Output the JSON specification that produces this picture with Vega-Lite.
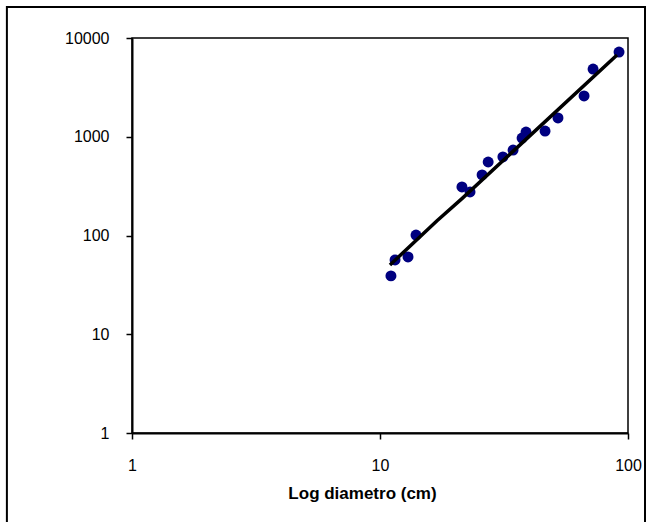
{
  "$schema": "https://vega.github.io/schema/vega-lite/v6.json",
  "autosize": "none",
  "width": 496,
  "height": 395,
  "padding": {"left": 132, "top": 38, "right": 25, "bottom": 89},
  "background": "white",
  "config": {
    "font": "Liberation Sans",
    "view": {"stroke": "black", "strokeWidth": 1.5},
    "axis": {"grid": false, "domainColor": "black", "domainWidth": 2, "tickColor": "black", "tickWidth": 1.5, "tickSize": 6, "labelColor": "black", "labelFontSize": 16, "titleColor": "black"}
  },
  "datasets": {
    "obs": [
      {"d": 11.07, "v": 39},
      {"d": 11.5, "v": 56.5},
      {"d": 12.97, "v": 60.6},
      {"d": 13.97, "v": 101},
      {"d": 21.4, "v": 310},
      {"d": 23.07, "v": 276},
      {"d": 25.8, "v": 410},
      {"d": 27.3, "v": 555},
      {"d": 31.3, "v": 624},
      {"d": 34.4, "v": 734},
      {"d": 37.4, "v": 971},
      {"d": 38.8, "v": 1117},
      {"d": 46.3, "v": 1143},
      {"d": 52.2, "v": 1549},
      {"d": 66.5, "v": 2587},
      {"d": 72.3, "v": 4853},
      {"d": 92.0, "v": 7213}
    ],
    "fit": [
      {"d": 10.97, "v": 50.3},
      {"d": 16.98, "v": 141},
      {"d": 21.4, "v": 236},
      {"d": 90.3, "v": 6730}
    ]
  },
  "layer": [
    {
      "data": {"values": [{"k": 1}]},
      "mark": {"type": "rect", "clip": false, "fill": null, "stroke": "black", "strokeWidth": 2},
      "encoding": {
        "x": {"datum": 0.313, "type": "quantitative", "scale": {"type": "log", "domain": [1, 100]}},
        "x2": {"datum": 117.1},
        "y": {"datum": 20600, "type": "quantitative", "scale": {"type": "log", "domain": [1, 10000]}},
        "y2": {"datum": 0.08}
      }
    },
    {
      "data": {"name": "obs"},
      "mark": {"type": "point", "filled": true, "color": "#000080", "size": 120, "opacity": 1},
      "encoding": {
        "x": {"field": "d", "type": "quantitative", "scale": {"type": "log", "domain": [1, 100], "nice": false}, "axis": {"values": [1, 10, 100], "format": "d", "labelFlush": false, "labelDx": -4, "labelPadding": 18, "title": "Log diametro (cm)", "titleFontSize": 17, "titleFontWeight": "bold", "titlePadding": 12, "titleX": 230}},
        "y": {"field": "v", "type": "quantitative", "scale": {"type": "log", "domain": [1, 10000], "nice": false}, "axis": {"values": [1, 10, 100, 1000, 10000], "format": "d", "labelPadding": 17, "title": null}}
      }
    },
    {
      "data": {"name": "fit"},
      "mark": {"type": "line", "color": "black", "strokeWidth": 3.5},
      "encoding": {
        "x": {"field": "d", "type": "quantitative"},
        "y": {"field": "v", "type": "quantitative"}
      }
    }
  ]
}
